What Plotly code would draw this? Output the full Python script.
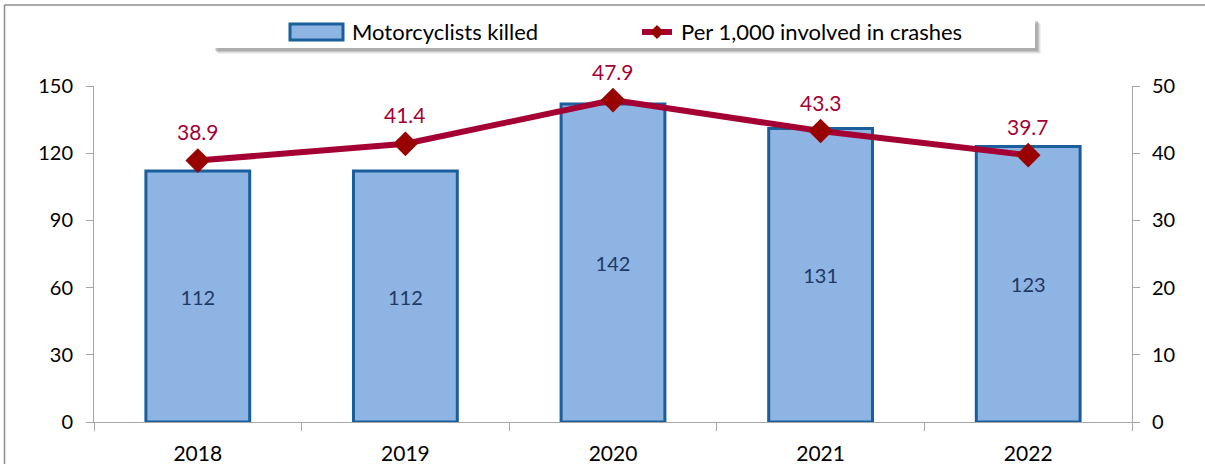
import plotly.graph_objects as go

years = ["2018", "2019", "2020", "2021", "2022"]
killed = [112, 112, 142, 131, 123]
per_1000 = [38.9, 41.4, 47.9, 43.3, 39.7]
series_names = ["Motorcyclists killed", "Per 1,000 involved in crashes"]
left_ticks = [0, 30, 60, 90, 120, 150]
right_ticks = [0, 10, 20, 30, 40, 50]

W, H = 1205, 464
L, R, T, B = 94, 73, 86, 42
PW, PH = W - L - R, H - T - B

def px(p):
    return (p - L) / PW

def py(p):
    return (H - B - p) / PH

FONT = "Lato"
BAR_FILL = "#8EB4E3"
BAR_LINE = "#1A5F9C"
LINE_COL = "#A50034"
MARK_COL = "#990000"
AXIS_COL = "#A6A6A6"

fig = go.Figure()
fig.add_trace(go.Bar(
    x=years, y=killed, name=series_names[0], yaxis="y",
    width=0.5, marker=dict(color=BAR_FILL, line=dict(color=BAR_LINE, width=3)),
    text=[str(v) for v in killed], textposition="inside", insidetextanchor="middle",
    textfont=dict(color="#1F3864", size=20, family=FONT), showlegend=False,
))
fig.add_trace(go.Scatter(
    x=years, y=per_1000, name=series_names[1], yaxis="y2", mode="lines+markers",
    line=dict(color=LINE_COL, width=6),
    marker=dict(symbol="diamond", size=19, color=MARK_COL),
    showlegend=False,
))
for i, v in enumerate(per_1000):
    fig.add_annotation(x=i, y=v, xref="x", yref="y2", text=f"{v:.1f}", showarrow=False,
                       yshift=29, font=dict(color=LINE_COL, size=21, family=FONT))

shapes = []
# outer frame (left and top edges)
shapes.append(dict(type="line", xref="paper", yref="paper", x0=px(4.5), x1=px(W + 5),
                   y0=py(5), y1=py(5), line=dict(color="#8C8C8C", width=1.5)))
shapes.append(dict(type="line", xref="paper", yref="paper", x0=px(4.5), x1=px(4.5),
                   y0=py(5), y1=py(H + 5), line=dict(color="#8C8C8C", width=1.5)))
# legend shadow
for off, op in [(6, 0.08), (5, 0.12), (4, 0.18), (3, 0.22)]:
    shapes.append(dict(type="rect", xref="paper", yref="paper",
                       x0=px(212 + off), x1=px(1035 + off), y0=py(18 + off), y1=py(48 + off),
                       line=dict(width=0), fillcolor=f"rgba(90,90,90,{op})"))
shapes.append(dict(type="rect", xref="paper", yref="paper",
                   x0=px(210), x1=px(1035), y0=py(16), y1=py(48),
                   line=dict(width=0), fillcolor="white"))
# legend symbols
shapes.append(dict(type="rect", xref="paper", yref="paper",
                   x0=px(290), x1=px(343), y0=py(24), y1=py(40),
                   line=dict(color=BAR_LINE, width=3), fillcolor=BAR_FILL))
shapes.append(dict(type="line", xref="paper", yref="paper",
                   x0=px(642), x1=px(672), y0=py(32), y1=py(32),
                   line=dict(color=LINE_COL, width=6)))
cx, cy, r = 657, 32, 7
shapes.append(dict(type="path", xref="paper", yref="paper",
                   path=f"M {px(cx-r)},{py(cy)} L {px(cx)},{py(cy-r)} L {px(cx+r)},{py(cy)} L {px(cx)},{py(cy+r)} Z",
                   line=dict(width=0), fillcolor=MARK_COL))
fig.update_layout(shapes=shapes)

fig.add_annotation(xref="paper", yref="paper", x=px(350), y=py(32), xanchor="left", yanchor="middle",
                   text=series_names[0], showarrow=False, font=dict(size=22, family=FONT, color="#000"))
fig.add_annotation(xref="paper", yref="paper", x=px(679), y=py(32), xanchor="left", yanchor="middle",
                   text=series_names[1], showarrow=False, font=dict(size=22, family=FONT, color="#000"))

fig.update_layout(
    width=W, height=H, margin=dict(l=L, r=R, t=T, b=B, pad=0, autoexpand=False),
    plot_bgcolor="white", paper_bgcolor="white",
    font=dict(family=FONT, size=20, color="#000"),
    showlegend=False,
    xaxis=dict(type="category", categoryorder="array", categoryarray=years,
               range=[-0.5, len(years) - 0.5], automargin=False,
               showline=True, linecolor=AXIS_COL, linewidth=1,
               ticks="outside", tickson="boundaries", ticklen=8, tickcolor=AXIS_COL,
               ticklabelstandoff=13, tickangle=0, showgrid=False, zeroline=False,
               tickfont=dict(size=21, family=FONT)),
    yaxis=dict(range=[0, 150], tickvals=left_ticks, showline=True, linecolor=AXIS_COL, linewidth=1,
               ticks="outside", ticklen=7, tickcolor=AXIS_COL, ticklabelstandoff=9, automargin=False,
               showgrid=False, zeroline=False, tickfont=dict(size=20, family=FONT)),
    yaxis2=dict(range=[0, 50], tickvals=right_ticks, overlaying="y", side="right", automargin=False,
                showline=True, linecolor=AXIS_COL, linewidth=1, ticks="outside", ticklen=7,
                tickcolor=AXIS_COL, ticklabelstandoff=8, showgrid=False, zeroline=False,
                tickfont=dict(size=20, family=FONT)),
)

fig.write_html("out.html", config={"displayModeBar": False},
               post_script="document.body.style.margin='0';document.body.style.overflow='hidden';")
